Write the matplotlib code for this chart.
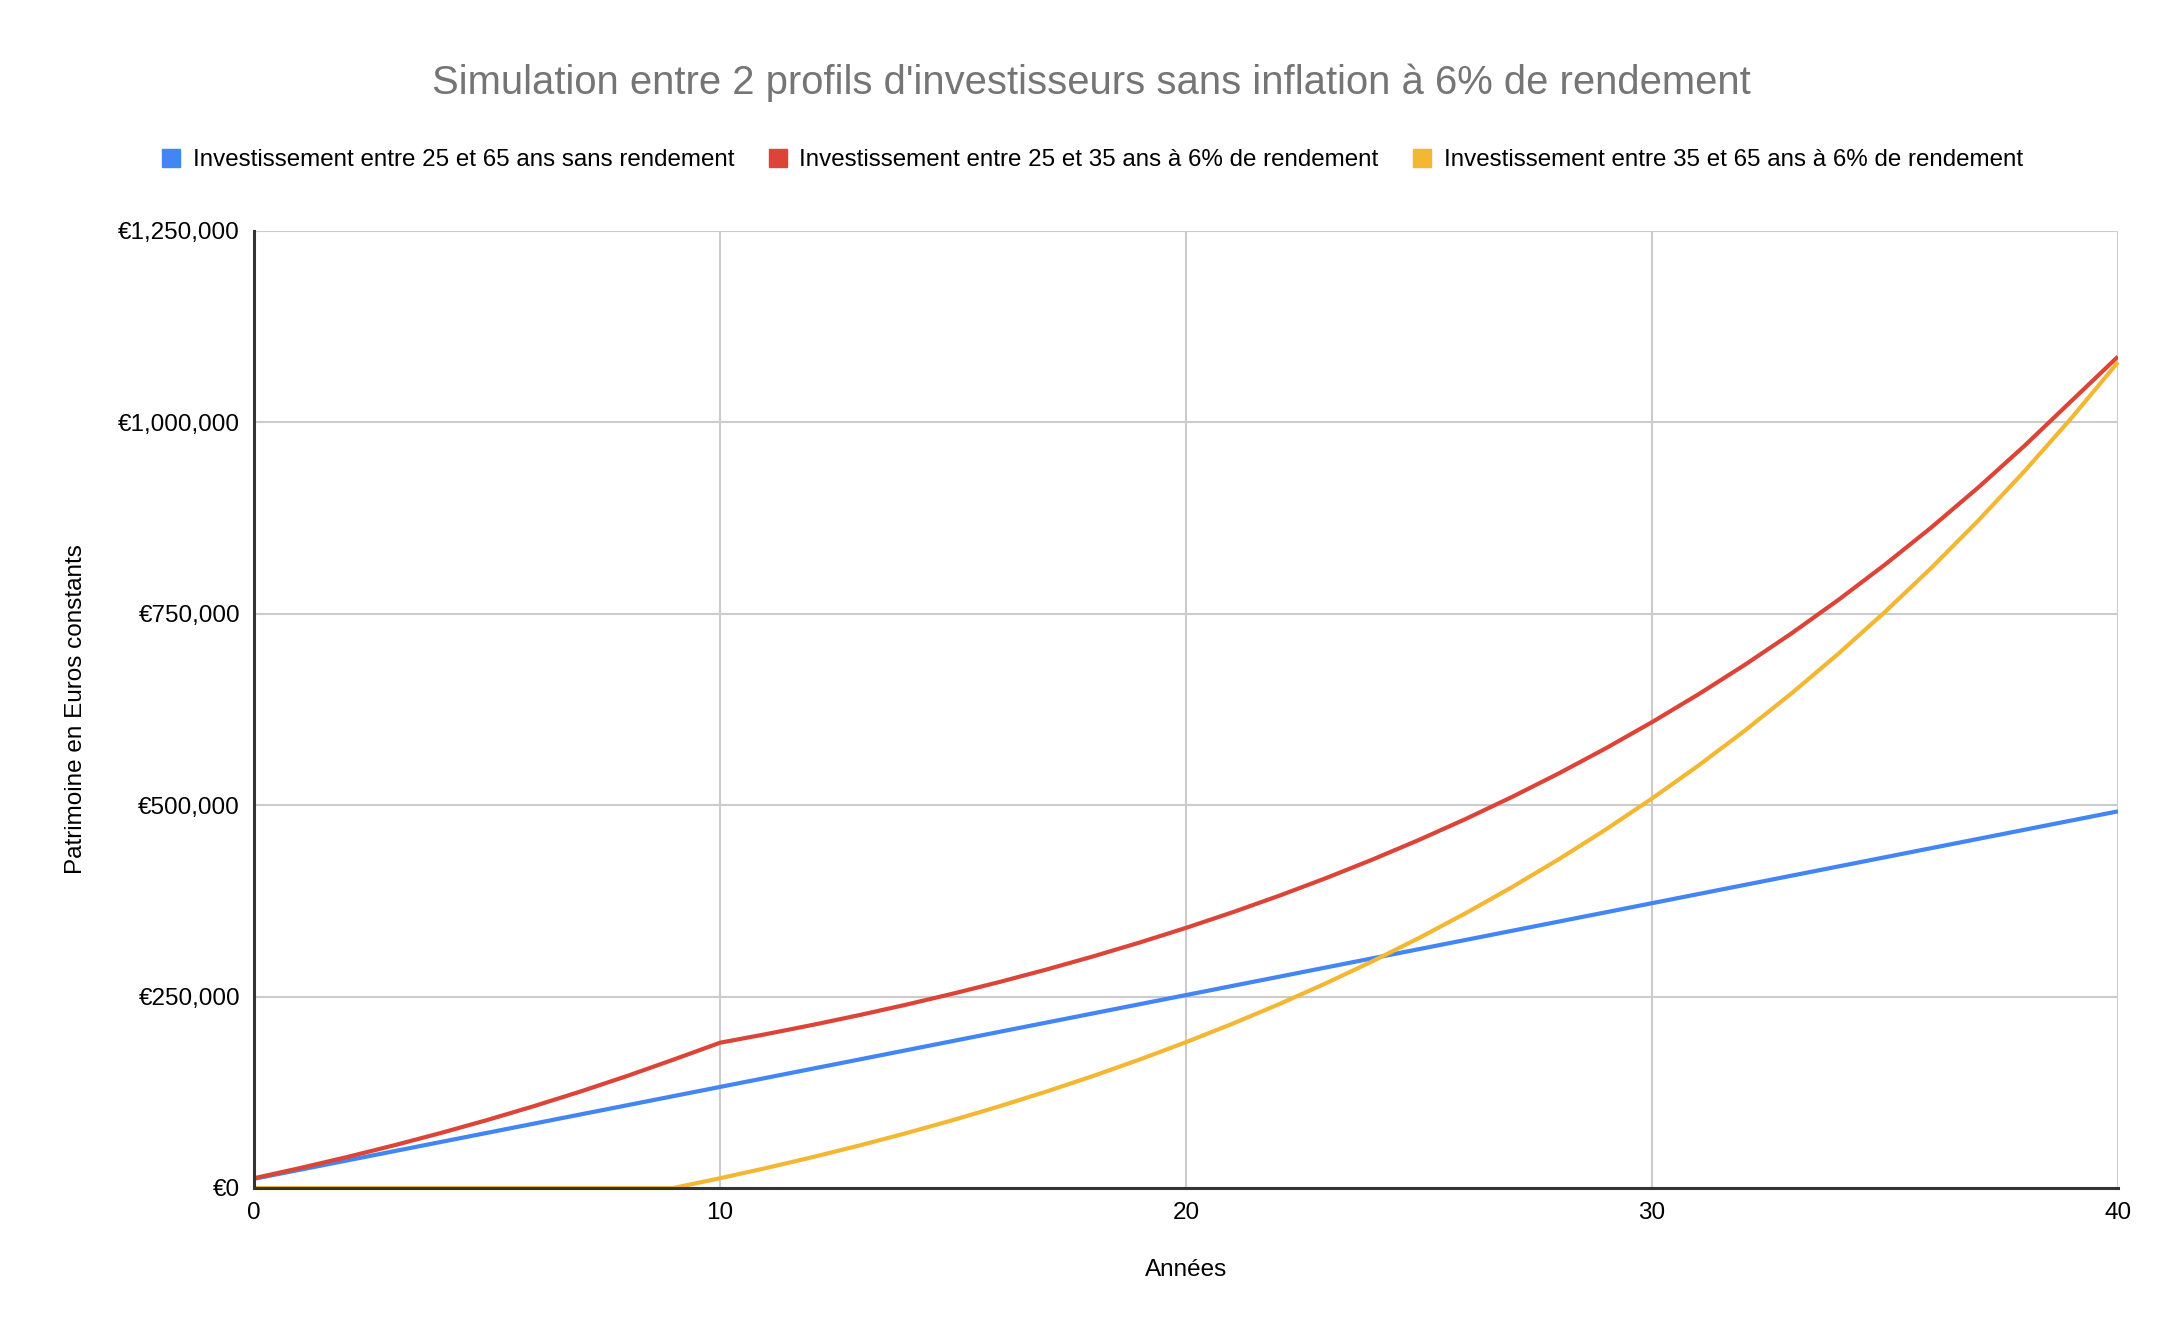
import matplotlib
matplotlib.use("Agg")
import matplotlib.pyplot as plt
from matplotlib.lines import Line2D
from matplotlib.ticker import FuncFormatter, MultipleLocator

plt.rcParams['font.family'] = ['Liberation Sans', 'DejaVu Sans']

years = list(range(0, 41))

blue_label = "Investissement entre 25 et 65 ans sans rendement"
red_label = "Investissement entre 25 et 35 ans à 6% de rendement"
yellow_label = "Investissement entre 35 et 65 ans à 6% de rendement"

blue_values = [12000, 24000, 36000, 48000, 60000, 72000, 84000, 96000, 108000, 120000,
               132000, 144000, 156000, 168000, 180000, 192000, 204000, 216000, 228000, 240000,
               252000, 264000, 276000, 288000, 300000, 312000, 324000, 336000, 348000, 360000,
               372000, 384000, 396000, 408000, 420000, 432000, 444000, 456000, 468000, 480000,
               492000]

red_values = [12720, 26203, 40495, 55645, 71704, 88726, 106770, 125896, 146170, 167660,
              189720, 201103, 213169, 225960, 239517, 253888, 269121, 285269, 302385, 320528,
              339760, 360145, 381754, 404659, 428939, 454675, 481956, 510873, 541525, 574017,
              608458, 644965, 683663, 724683, 768164, 814254, 863109, 914896, 969789, 1027977,
              1086000]

yellow_values = [0, 0, 0, 0, 0, 0, 0, 0, 0, 0,
                 12720, 26203, 40495, 55645, 71704, 88726, 106770, 125896, 146170, 167660,
                 190439, 214586, 240181, 267312, 296070, 326555, 358868, 393120, 429427, 467913,
                 508708, 551950, 597787, 646374, 697877, 752469, 810337, 871678, 936698, 1005620,
                 1078677]

title = "Simulation entre 2 profils d'investisseurs sans inflation à 6% de rendement"
x_label = "Années"
y_label = "Patrimoine en Euros constants"

c_blue = "#4285F4"
c_red = "#DB4437"
c_yellow = "#F4B733"

fig = plt.figure(figsize=(21.8, 13.28), dpi=100)
ax = fig.add_axes([254 / 2180, 1 - 1188 / 1328, (2118 - 254) / 2180, (1188 - 231) / 1328])

lw = 3.0
ax.plot(years, blue_values, color=c_blue, lw=lw, solid_capstyle='butt', zorder=3)
ax.plot(years, red_values, color=c_red, lw=lw, solid_capstyle='butt', zorder=4)
ax.plot(years, yellow_values, color=c_yellow, lw=lw, solid_capstyle='butt', zorder=5, clip_on=False)

ax.set_xlim(0, 40)
ax.set_ylim(0, 1250000)
ax.xaxis.set_major_locator(MultipleLocator(10))
ax.yaxis.set_major_locator(MultipleLocator(250000))
ax.yaxis.set_major_formatter(FuncFormatter(lambda v, p: "€{:,.0f}".format(v)))

ax.grid(True, color="#cccccc", lw=1.5, zorder=0)
ax.set_axisbelow(True)
for s in ['top', 'right']:
    ax.spines[s].set_visible(False)
for s in ['left', 'bottom']:
    ax.spines[s].set_color("#333333")
    ax.spines[s].set_linewidth(2.2)
    ax.spines[s].set_zorder(6)
ax.tick_params(axis='both', length=0, labelsize=17.5, colors="#000000")
ax.tick_params(axis='x', pad=10)
ax.tick_params(axis='y', pad=10)

ax.set_xlabel(x_label, fontsize=17.5)
ax.set_ylabel(y_label, fontsize=17.5)
ax.xaxis.set_label_coords(0.5, (1188 - 1270) / 957)
ax.yaxis.set_label_coords((76 - 254) / 1864, 0.5)
ax.xaxis.label.set_va('center')
ax.yaxis.label.set_va('center')

fig.text(1091 / 2180, 1 - 83 / 1328, title, ha='center', va='center', fontsize=28.8, color="#757575")

handles = [Line2D([], [], color=c, marker='s', markersize=13, linestyle='none')
           for c in (c_blue, c_red, c_yellow)]
fig.legend(handles, [blue_label, red_label, yellow_label], loc='center',
           bbox_to_anchor=(1091 / 2180, 1 - 160 / 1328), ncol=3, frameon=False,
           fontsize=17.4, handletextpad=0.4, columnspacing=1.3, handlelength=1.0)

fig.savefig("out.png", dpi=100, facecolor="white")
